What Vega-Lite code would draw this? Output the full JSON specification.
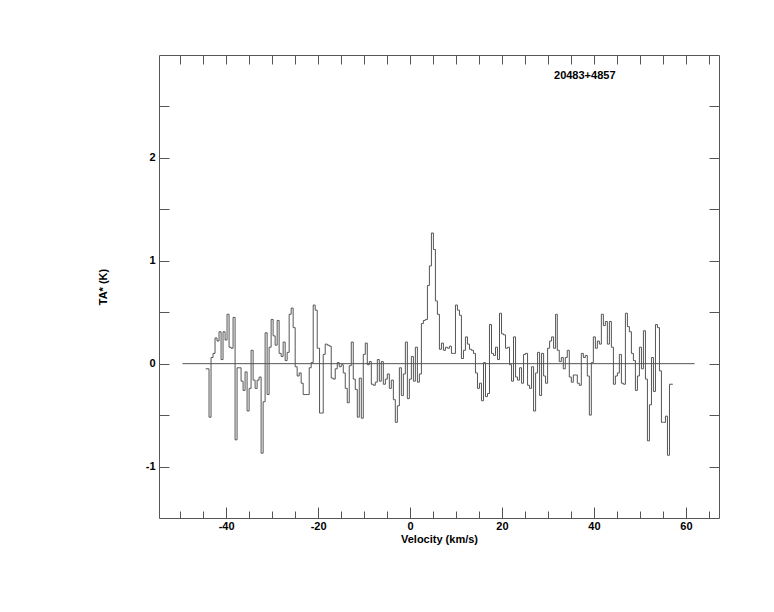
{
  "$schema": "https://vega.github.io/schema/vega-lite/v6.json",
  "width": 560,
  "height": 463,
  "autosize": {"type": "none"},
  "padding": {"left": 159, "top": 55, "right": 55, "bottom": 94},
  "background": "white",
  "config": {
    "view": {"stroke": "#555", "strokeWidth": 1},
    "axis": {
      "labelFont": "Liberation Sans",
      "labelFontWeight": "bold",
      "labelFontSize": 11,
      "labelColor": "#000",
      "titleFont": "Liberation Sans",
      "titleFontWeight": "bold",
      "titleFontSize": 11,
      "titleColor": "#000",
      "domain": false,
      "grid": false,
      "tickColor": "#555",
      "tickWidth": 1
    }
  },
  "layer": [
    {
      "data": {"values": [
        {"v": -44.44, "t": -0.05}, {"v": -43.72, "t": -0.52}, {"v": -43.28, "t": 0.06}, {"v": -42.85, "t": 0.10},
        {"v": -42.41, "t": 0.25}, {"v": -41.98, "t": 0.22}, {"v": -41.54, "t": 0.31}, {"v": -41.10, "t": 0.04},
        {"v": -40.67, "t": 0.31}, {"v": -40.23, "t": 0.23}, {"v": -39.80, "t": 0.48}, {"v": -39.36, "t": 0.16},
        {"v": -38.93, "t": 0.15}, {"v": -38.49, "t": 0.45}, {"v": -38.05, "t": -0.74}, {"v": -37.62, "t": -0.04},
        {"v": -37.18, "t": -0.04}, {"v": -36.75, "t": -0.17}, {"v": -36.31, "t": -0.26}, {"v": -35.88, "t": -0.08},
        {"v": -35.44, "t": -0.46}, {"v": -35.00, "t": -0.24}, {"v": -34.57, "t": 0.13}, {"v": -34.13, "t": -0.16},
        {"v": -33.70, "t": -0.24}, {"v": -33.26, "t": -0.16}, {"v": -32.83, "t": -0.13}, {"v": -32.39, "t": -0.87},
        {"v": -31.95, "t": -0.37}, {"v": -31.52, "t": 0.30}, {"v": -31.08, "t": -0.30}, {"v": -30.65, "t": 0.16},
        {"v": -30.21, "t": 0.43}, {"v": -29.78, "t": 0.27}, {"v": -29.34, "t": 0.18}, {"v": -28.90, "t": 0.42},
        {"v": -28.47, "t": 0.10}, {"v": -28.03, "t": 0.07}, {"v": -27.60, "t": 0.21}, {"v": -27.16, "t": 0.03},
        {"v": -26.73, "t": 0.11}, {"v": -26.29, "t": 0.48}, {"v": -25.85, "t": 0.54}, {"v": -25.42, "t": 0.35},
        {"v": -24.98, "t": -0.03}, {"v": -24.55, "t": -0.12}, {"v": -24.11, "t": -0.09}, {"v": -23.68, "t": -0.19},
        {"v": -23.24, "t": -0.30}, {"v": -22.80, "t": -0.30}, {"v": -22.37, "t": -0.30}, {"v": -21.93, "t": -0.04},
        {"v": -21.50, "t": 0.01}, {"v": -21.06, "t": 0.57}, {"v": -20.63, "t": 0.52}, {"v": -20.19, "t": 0.15},
        {"v": -19.68, "t": -0.48}, {"v": -19.25, "t": -0.48}, {"v": -18.88, "t": 0.09}, {"v": -18.45, "t": 0.19},
        {"v": -18.01, "t": 0.18}, {"v": -17.57, "t": 0.17}, {"v": -17.14, "t": -0.14}, {"v": -16.70, "t": -0.15},
        {"v": -16.27, "t": -0.05}, {"v": -15.83, "t": 0.01}, {"v": -15.40, "t": -0.03}, {"v": -14.96, "t": -0.01},
        {"v": -14.52, "t": -0.09}, {"v": -14.09, "t": -0.24}, {"v": -13.65, "t": -0.38}, {"v": -13.22, "t": -0.02},
        {"v": -12.78, "t": 0.21}, {"v": -12.35, "t": -0.15}, {"v": -11.91, "t": -0.25}, {"v": -11.47, "t": -0.52},
        {"v": -11.04, "t": -0.14}, {"v": -10.60, "t": -0.53}, {"v": -10.17, "t": 0.09}, {"v": -9.73, "t": 0.20},
        {"v": -9.30, "t": -0.01}, {"v": -8.86, "t": 0.02}, {"v": -8.42, "t": -0.20}, {"v": -7.99, "t": -0.21},
        {"v": -7.55, "t": -0.18}, {"v": -7.12, "t": 0.04}, {"v": -6.68, "t": -0.17}, {"v": -6.25, "t": 0.02},
        {"v": -5.81, "t": -0.20}, {"v": -5.37, "t": -0.15}, {"v": -4.94, "t": -0.10}, {"v": -4.50, "t": -0.24},
        {"v": -4.07, "t": -0.16}, {"v": -3.63, "t": -0.35}, {"v": -3.20, "t": -0.57}, {"v": -2.76, "t": -0.41},
        {"v": -2.32, "t": -0.04}, {"v": -1.89, "t": -0.31}, {"v": -1.45, "t": -0.10}, {"v": -1.02, "t": 0.21},
        {"v": -0.58, "t": -0.34}, {"v": -0.15, "t": -0.15}, {"v": 0.29, "t": 0.07}, {"v": 0.73, "t": -0.17},
        {"v": 1.16, "t": 0.16}, {"v": 1.60, "t": -0.18}, {"v": 2.03, "t": -0.10}, {"v": 2.47, "t": 0.39},
        {"v": 2.90, "t": 0.42}, {"v": 3.34, "t": 0.43}, {"v": 3.78, "t": 0.76}, {"v": 4.21, "t": 0.95},
        {"v": 4.65, "t": 1.27}, {"v": 5.08, "t": 1.11}, {"v": 5.52, "t": 0.61}, {"v": 5.95, "t": 0.48},
        {"v": 6.39, "t": 0.14}, {"v": 6.83, "t": 0.20}, {"v": 7.26, "t": 0.13}, {"v": 7.70, "t": 0.16},
        {"v": 8.13, "t": 0.15}, {"v": 8.57, "t": 0.17}, {"v": 9.00, "t": 0.10}, {"v": 9.44, "t": 0.10},
        {"v": 9.88, "t": 0.57}, {"v": 10.31, "t": 0.52}, {"v": 10.75, "t": 0.47}, {"v": 11.18, "t": 0.05},
        {"v": 11.62, "t": 0.13}, {"v": 12.05, "t": 0.26}, {"v": 12.49, "t": 0.19}, {"v": 12.93, "t": 0.14},
        {"v": 13.36, "t": 0.13}, {"v": 13.80, "t": 0.10}, {"v": 14.23, "t": -0.09}, {"v": 14.67, "t": -0.24},
        {"v": 15.10, "t": -0.19}, {"v": 15.54, "t": -0.36}, {"v": 15.98, "t": 0.01}, {"v": 16.41, "t": -0.32},
        {"v": 16.85, "t": -0.29}, {"v": 17.28, "t": 0.38}, {"v": 17.72, "t": 0.10}, {"v": 18.15, "t": 0.08},
        {"v": 18.59, "t": 0.16}, {"v": 19.03, "t": 0.04}, {"v": 19.46, "t": 0.49}, {"v": 19.90, "t": 0.29},
        {"v": 20.33, "t": 0.28}, {"v": 20.77, "t": 0.15}, {"v": 21.21, "t": 0.16}, {"v": 21.64, "t": -0.01},
        {"v": 22.08, "t": -0.17}, {"v": 22.51, "t": 0.26}, {"v": 22.95, "t": -0.13}, {"v": 23.38, "t": -0.16},
        {"v": 23.82, "t": -0.04}, {"v": 24.26, "t": -0.19}, {"v": 24.69, "t": 0.09}, {"v": 25.13, "t": 0.10},
        {"v": 25.56, "t": -0.21}, {"v": 26.00, "t": -0.24}, {"v": 26.43, "t": -0.03}, {"v": 26.87, "t": -0.46},
        {"v": 27.31, "t": -0.09}, {"v": 27.74, "t": 0.11}, {"v": 28.18, "t": -0.31}, {"v": 28.61, "t": 0.10},
        {"v": 29.05, "t": -0.12}, {"v": 29.48, "t": -0.19}, {"v": 29.92, "t": 0.15}, {"v": 30.36, "t": 0.22},
        {"v": 30.79, "t": 0.26}, {"v": 31.23, "t": 0.15}, {"v": 31.66, "t": 0.48}, {"v": 32.03, "t": 0.13},
        {"v": 32.46, "t": 0.02}, {"v": 32.90, "t": 0.06}, {"v": 33.33, "t": -0.05}, {"v": 33.77, "t": 0.06},
        {"v": 34.20, "t": 0.13}, {"v": 34.64, "t": -0.13}, {"v": 35.08, "t": -0.18}, {"v": 35.51, "t": -0.11},
        {"v": 35.95, "t": -0.11}, {"v": 36.38, "t": -0.19}, {"v": 36.82, "t": -0.21}, {"v": 37.25, "t": 0.10},
        {"v": 37.69, "t": 0.06}, {"v": 38.13, "t": 0.08}, {"v": 38.56, "t": -0.12}, {"v": 39.00, "t": -0.50},
        {"v": 39.43, "t": 0.01}, {"v": 39.87, "t": 0.26}, {"v": 40.31, "t": 0.15}, {"v": 40.74, "t": 0.22},
        {"v": 41.18, "t": 0.19}, {"v": 41.61, "t": 0.48}, {"v": 42.05, "t": 0.37}, {"v": 42.48, "t": 0.41},
        {"v": 42.92, "t": 0.19}, {"v": 43.36, "t": 0.41}, {"v": 43.79, "t": 0.16}, {"v": 44.23, "t": -0.20},
        {"v": 44.66, "t": -0.12}, {"v": 45.10, "t": -0.09}, {"v": 45.53, "t": 0.09}, {"v": 45.97, "t": -0.19},
        {"v": 46.41, "t": -0.20}, {"v": 46.84, "t": 0.49}, {"v": 47.28, "t": 0.36}, {"v": 47.71, "t": 0.31},
        {"v": 48.15, "t": 0.10}, {"v": 48.58, "t": 0.03}, {"v": 49.02, "t": -0.26}, {"v": 49.46, "t": -0.12},
        {"v": 49.89, "t": 0.16}, {"v": 50.33, "t": -0.05}, {"v": 50.76, "t": 0.32}, {"v": 51.20, "t": -0.15},
        {"v": 51.63, "t": -0.75}, {"v": 52.07, "t": -0.40}, {"v": 52.51, "t": 0.06}, {"v": 52.94, "t": -0.27},
        {"v": 53.38, "t": 0.38}, {"v": 53.81, "t": 0.35}, {"v": 54.25, "t": -0.07}, {"v": 54.68, "t": -0.57},
        {"v": 55.12, "t": -0.57}, {"v": 55.56, "t": -0.51}, {"v": 55.99, "t": -0.89}, {"v": 56.43, "t": -0.20},
        {"v": 57.15, "t": -0.20}
      ]},
      "mark": {"type": "line", "interpolate": "step-after", "stroke": "#555", "strokeWidth": 1},
      "encoding": {
        "x": {
          "field": "v", "type": "quantitative",
          "scale": {"domain": [-54.6, 67.2], "nice": false, "zero": false},
          "axis": {
            "orient": "bottom",
            "values": [-50, -45, -40, -35, -30, -25, -20, -15, -10, -5, 0, 5, 10, 15, 20, 25, 30, 35, 40, 45, 50, 55, 60, 65],
            "labelExpr": "datum.value % 20 === 0 ? '' + datum.value : ''",
            "tickSize": {"condition": {"test": "datum.value % 20 === 0", "value": -11}, "value": -7},
            "labelPadding": 13,
            "labelFlush": false,
            "labelOverlap": false,
            "title": "Velocity (km/s)",
            "titleBaseline": "middle",
            "titleY": 21
          }
        },
        "y": {
          "field": "t", "type": "quantitative",
          "scale": {"domain": [-1.5, 3], "nice": false, "zero": false},
          "axis": {
            "orient": "left",
            "values": [-1, -0.5, 0, 0.5, 1, 1.5, 2, 2.5],
            "labelExpr": "datum.value % 1 === 0 ? '' + datum.value : ''",
            "tickSize": -10,
            "labelPadding": 14,
            "labelOverlap": false,
            "labelFlush": false,
            "title": "TA* (K)",
            "titleAngle": 270,
            "titleAlign": "center",
            "titleBaseline": "middle",
            "titleX": -56,
            "titleY": 231.5
          }
        }
      }
    },
    {
      "data": {"values": [{"x1": -49.5, "x2": 61.9, "y": 0}]},
      "mark": {"type": "rule", "stroke": "#555", "strokeWidth": 1},
      "encoding": {
        "x": {
          "field": "x1", "type": "quantitative",
          "scale": {"domain": [-54.6, 67.2], "nice": false, "zero": false},
          "axis": {
            "orient": "top",
            "values": [-50, -45, -40, -35, -30, -25, -20, -15, -10, -5, 0, 5, 10, 15, 20, 25, 30, 35, 40, 45, 50, 55, 60, 65],
            "labels": false,
            "tickSize": -9,
            "title": null
          }
        },
        "x2": {"field": "x2"},
        "y": {
          "field": "y", "type": "quantitative",
          "scale": {"domain": [-1.5, 3], "nice": false, "zero": false},
          "axis": {
            "orient": "right",
            "values": [-1, -0.5, 0, 0.5, 1, 1.5, 2, 2.5],
            "labels": false,
            "tickSize": -10,
            "title": null
          }
        }
      }
    },
    {
      "data": {"values": [{"x": 38.0, "y": 2.8, "label": "20483+4857"}]},
      "mark": {"type": "text", "font": "Liberation Sans", "fontWeight": "bold", "fontSize": 11, "color": "#000", "baseline": "middle", "align": "center"},
      "encoding": {
        "x": {"field": "x", "type": "quantitative", "scale": {"domain": [-54.6, 67.2], "nice": false, "zero": false}, "axis": null},
        "y": {"field": "y", "type": "quantitative", "scale": {"domain": [-1.5, 3], "nice": false, "zero": false}, "axis": null},
        "text": {"field": "label"}
      }
    }
  ],
  "resolve": {"axis": {"x": "independent", "y": "independent"}}
}
